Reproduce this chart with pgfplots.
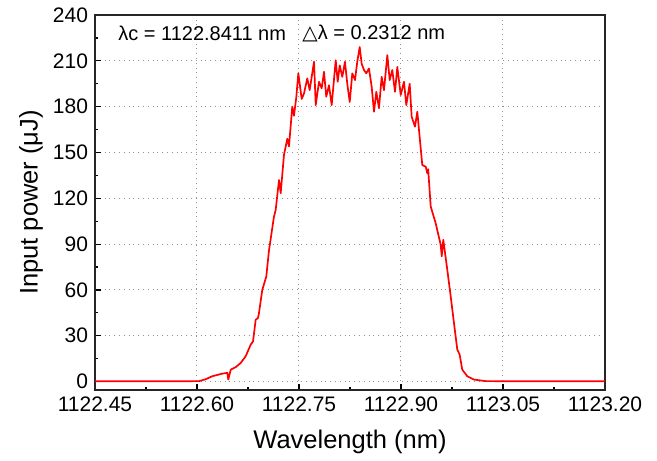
\documentclass[border=0pt]{standalone}
\usepackage{fontspec}
\setmainfont{Liberation Sans}
\newfontfamily\dejavu{DejaVu Sans}
\usepackage{pgfplots}
\pgfplotsset{compat=1.18}

\begin{document}
\begin{tikzpicture}
\begin{axis}[
  scale only axis,
  width=255pt, height=187.5pt,
  xmin=1122.45, xmax=1123.20,
  ymin=-5.5, ymax=240,
  xtick={1122.45,1122.60,1122.75,1122.90,1123.05,1123.20},
  minor xtick={1122.525,1122.675,1122.825,1122.975,1123.125},
  ytick={0,30,...,240},
  minor ytick={15,45,...,225},
  xtick pos=left, ytick pos=left,
  tick align=inside,
  major tick length=3pt, minor tick length=1.6pt,
  every tick/.style={black, line width=0.6pt},
  axis line style={line width=0.9pt, black!85},
  grid=major,
  major grid style={gray!85, dotted, line width=0.5pt},
  /pgf/number format/assume math mode=true,
  xticklabel style={/pgf/number format/.cd, fixed, fixed zerofill, precision=2, 1000 sep={}},
  yticklabel style={/pgf/number format/1000 sep={}},
  ticklabel style={font=\fontsize{10.5}{12}\selectfont},
  xlabel={Wavelength (nm)},
  ylabel={Input power (μJ)},
  label style={font=\fontsize{12.75}{14}\selectfont},
  xlabel style={at={(rel axis cs:0.5,-0.139)}, anchor=center},
  ylabel style={at={(rel axis cs:-0.1255,0.5)}, anchor=center},
  clip=false,
]
\addplot[red, line width=0.85pt, line join=round] coordinates {
(1122.450,0.2) (1122.500,0.2) (1122.550,0.2) (1122.603,0.3)
(1122.6125,1.5) (1122.6225,3.5) (1122.6372,5.2) (1122.6446,5.7)
(1122.6460,1.3) (1122.6496,7.8) (1122.657,9.5) (1122.6643,12.2)
(1122.6716,16.6) (1122.6790,24.2) (1122.6824,26.3) (1122.6863,40.5)
(1122.6897,41.6) (1122.6912,45) (1122.6960,60) (1122.7019,68.8)
(1122.7059,86) (1122.7132,108) (1122.7157,112.4) (1122.7206,132)
(1122.7231,123.3) (1122.7279,148.4) (1122.7328,159) (1122.7353,154)
(1122.7401,180) (1122.7426,174) (1122.7460,186) (1122.7490,201.8)
(1122.7540,185) (1122.7574,188.7) (1122.7622,198.5) (1122.7657,190.8)
(1122.7721,209.4) (1122.7746,181) (1122.7794,196.3) (1122.7834,192)
(1122.7868,202.8) (1122.7901,186.5) (1122.7941,194) (1122.7981,181)
(1122.8040,210.4) (1122.8069,196.3) (1122.8099,207) (1122.8137,199.5)
(1122.8176,209.4) (1122.8210,195) (1122.8246,183) (1122.8284,201.8)
(1122.8324,197.4) (1122.8357,209.4) (1122.8393,219) (1122.8422,208)
(1122.8456,204) (1122.8490,201.8) (1122.8529,205) (1122.8569,193)
(1122.8603,176.7) (1122.8637,189.7) (1122.8676,179) (1122.8716,199.5)
(1122.8750,190.8) (1122.8799,213.7) (1122.8834,197.4) (1122.8872,204)
(1122.8912,189.7) (1122.8946,206) (1122.8996,187.6) (1122.9044,196.3)
(1122.9078,181) (1122.9128,195) (1122.9157,173.4) (1122.9206,166.9)
(1122.9240,176.7) (1122.9265,164.7) (1122.9313,141.8) (1122.9363,140.7)
(1122.9387,136.4) (1122.9400,139) (1122.9437,114.6) (1122.9510,103.7)
(1122.9584,89.5) (1122.9599,82) (1122.9622,92.8) (1122.9681,73.2)
(1122.9731,55.8) (1122.9779,38.4) (1122.9828,21) (1122.9863,17.6)
(1122.9901,7.8) (1122.9975,3.5) (1123.0074,1.3) (1123.0246,0.3)
(1123.100,0.2) (1123.200,0.2)
};
\node[anchor=west, inner sep=0pt, font=\fontsize{10}{12}\selectfont] at (rel axis cs:0.045,0.952) {λc = 1122.8411 nm};
\node[anchor=west, inner sep=0pt, font=\fontsize{10}{12}\selectfont] at (rel axis cs:0.406,0.952) {{\dejavu △}λ = 0.2312 nm};
\path (rel axis cs:-0.1863,-0.1733) rectangle (rel axis cs:1.102,1.04);
\end{axis}
\end{tikzpicture}
\end{document}
